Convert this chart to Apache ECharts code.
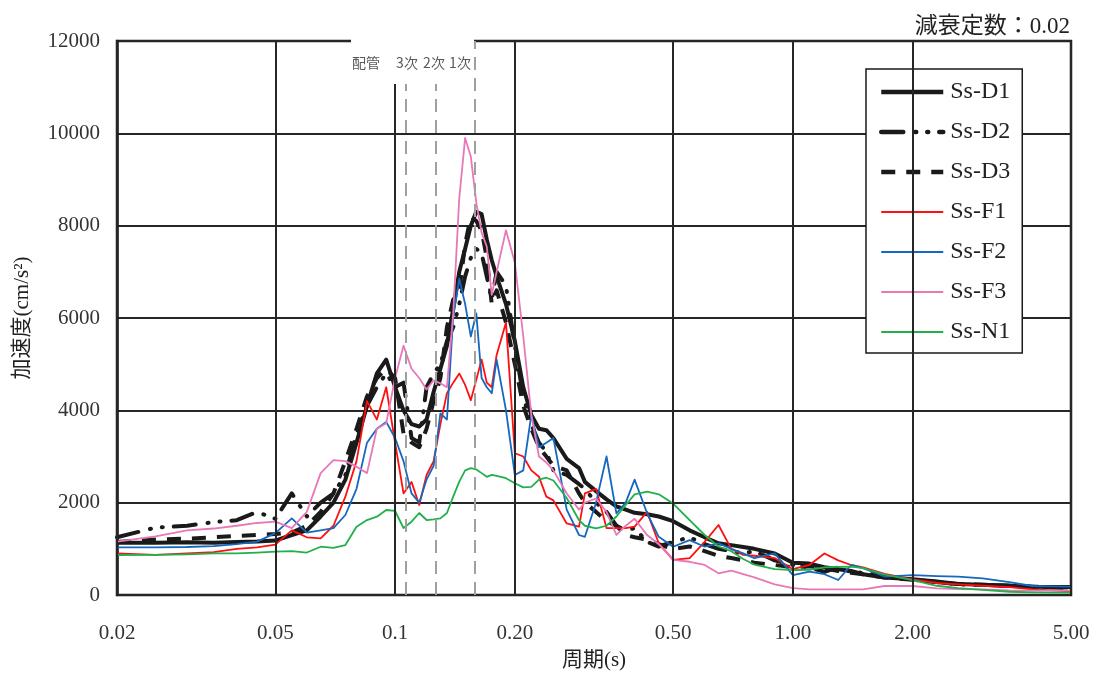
<!DOCTYPE html>
<html>
<head>
<meta charset="utf-8">
<script src="https://cdn.jsdelivr.net/npm/echarts@6/dist/echarts.min.js"></script>
<style>html,body{margin:0;padding:0;background:#fff}#c{width:1097px;height:673px}</style>
</head>
<body>
<div id="c"></div>
<script>
// ---- data ----
const periods = [0.02,0.025,0.03,0.035,0.04,0.045,0.05,0.055,0.06,0.065,
  0.07,0.075,0.08,0.085,0.09,0.095,0.1,0.105,0.11,0.115,
  0.12,0.125,0.13,0.135,0.14,0.145,0.15,0.155,0.16,0.165,
  0.17,0.175,0.18,0.19,0.2,0.21,0.22,0.23,0.24,0.25,
  0.27,0.29,0.3,0.32,0.34,0.36,0.38,0.4,0.43,0.46,
  0.5,0.55,0.6,0.65,0.7,0.75,0.8,0.9,1.0,1.1,
  1.2,1.3,1.4,1.5,1.7,2.0,2.3,2.6,3.0,3.5,
  4.0,4.5,5.0];

const ssD1 = [1130,1130,1140,1130,1150,1160,1180,1300,1400,1700,
  2000,2500,3300,4100,4800,5100,4500,4000,3700,3650,
  3800,4400,4900,5400,6200,7000,7500,8000,8300,8250,
  7700,7250,6900,6300,5500,4500,3900,3600,3570,3400,
  2950,2750,2450,2250,2070,1920,1850,1780,1750,1700,
  1600,1400,1250,1120,1080,1040,1000,900,700,680,
  600,560,520,450,380,340,290,240,220,200,
  180,175,175];

const ssD2 = [1250,1460,1500,1580,1620,1800,1650,2200,1700,2000,
  2200,2600,3500,4100,4500,4800,4500,4600,3400,3300,
  4500,4800,5000,5500,5800,6300,6900,7300,7500,7400,
  6900,6400,7000,6700,5400,4300,3700,3300,3100,2700,
  2600,2400,2300,2000,1800,1500,1400,1450,1150,1050,
  1150,1250,1100,1000,950,900,950,750,650,600,
  500,600,500,480,400,330,280,230,220,200,
  180,170,160];

const ssD3 = [1150,1200,1220,1250,1280,1300,1320,1350,1500,1800,
  2200,2900,3600,4300,4700,4900,4700,3500,3300,3200,
  3600,4200,4700,5800,6400,6600,7600,8200,8100,7900,
  7300,6300,6600,5900,5000,4100,3600,3200,3000,2800,
  2700,2200,2000,1800,1600,1500,1300,1250,1200,1100,
  1000,1050,950,850,800,750,700,650,600,620,
  580,520,480,450,380,330,280,240,220,200,
  180,170,150];

const ssF1 = [903,870,900,930,1000,1030,1090,1400,1250,1228,
  1500,2130,2900,4200,3800,4500,3300,2200,2450,1950,
  2600,2900,3700,4370,4600,4800,4550,4220,4660,5100,
  4600,4500,5200,5900,3070,3000,2700,2560,2130,2050,
  1550,1480,2200,2300,1450,1450,1450,1480,1800,1120,
  760,800,1150,1516,1000,870,850,800,560,650,
  900,750,650,600,460,340,260,230,200,170,
  120,100,80];

const ssF2 = [1033,1033,1040,1060,1100,1155,1340,1660,1350,1400,
  1450,1733,2300,3300,3600,3750,3400,2900,2200,2000,
  2500,2800,3935,3800,6028,6850,6300,5600,6100,4700,
  4500,4369,5100,4000,2600,2700,3900,3200,3300,3400,
  1850,1300,1260,2000,3000,1770,2000,2500,1770,1260,
  1046,1190,1046,1120,1000,900,800,900,430,505,
  450,325,650,580,400,430,410,400,361,280,
  195,185,180];

const ssF3 = [1155,1270,1400,1440,1500,1560,1590,1450,1800,2640,
  2920,2900,2780,2640,3600,3720,4700,5400,4900,4700,
  4450,4650,4585,4500,6100,8600,9900,9500,8500,7850,
  7550,6500,7000,7900,7200,5600,3900,3000,2870,2700,
  2200,1850,2000,2090,1800,1300,1500,1650,1300,1100,
  760,720,650,470,530,450,380,230,150,123,
  123,123,123,123,195,195,144,130,120,100,
  94,94,94];

const ssN1 = [866,870,880,900,900,920,940,950,920,1046,
  1020,1083,1480,1624,1696,1841,1820,1451,1588,1776,
  1624,1640,1660,1776,2130,2455,2700,2750,2720,2640,
  2560,2600,2580,2530,2420,2330,2340,2500,2540,2480,
  2100,1620,1500,1444,1500,1700,1950,2180,2240,2180,
  1980,1620,1300,1050,950,780,660,560,541,545,
  600,610,613,580,440,320,200,150,110,70,
  55,50,50];

const xTickValues = [0.02, 0.05, 0.1, 0.2, 0.5, 1, 2, 5];
const xTickLabels = ['0.02', '0.05', '0.1', '0.20', '0.50', '1.00', '2.00', '5.00'];
const yTicks = { min: 0, max: 12000, interval: 2000 };

// natural periods of piping, 3rd, 2nd, 1st modes
const markPeriods = [0.1066, 0.1267, 0.159];
const markLabels = ['配管', '3次', '2次', '1次'];

// ---- chart ----
const serifFont = "'Liberation Serif', 'Noto Sans CJK JP', serif";
const chart = echarts.init(document.getElementById('c'), null, { renderer: 'canvas' });

function pairs(vals) { return periods.map((p, i) => [p, vals[i]]); }

const seriesDefs = [
  { name: 'Ss-D1', data: ssD1, color: '#1a1a1a', width: 4, type: 'solid' },
  { name: 'Ss-D2', data: ssD2, color: '#1a1a1a', width: 4, type: [22, 12, 1, 11, 1, 11], cap: 'round' },
  { name: 'Ss-D3', data: ssD3, color: '#1a1a1a', width: 4, type: [14, 11] },
  { name: 'Ss-F1', data: ssF1, color: '#ff1010', width: 1.8, type: 'solid' },
  { name: 'Ss-F2', data: ssF2, color: '#1468c0', width: 1.8, type: 'solid' },
  { name: 'Ss-F3', data: ssF3, color: '#e878b8', width: 1.8, type: 'solid' },
  { name: 'Ss-N1', data: ssN1, color: '#22b04c', width: 1.8, type: 'solid' }
];

function labelFor(v) {
  let best = 0, bd = Infinity;
  xTickValues.forEach((t, i) => { const d = Math.abs(Math.log(v / t)); if (d < bd) { bd = d; best = i; } });
  return xTickLabels[best];
}

const series = [{
  name: '_grid', type: 'line', data: [], silent: true, z: 1,
  markLine: {
    symbol: 'none', silent: true, animation: false,
    lineStyle: { color: '#262626', width: 2, type: 'solid' },
    label: {
      show: true, position: 'start', distance: 28,
      formatter: p => labelFor(p.value),
      fontSize: 21, color: '#333', fontFamily: serifFont
    },
    data: xTickValues.map(v => ({ xAxis: v }))
  }
}, {
  name: '_modes', type: 'line', data: [], silent: true, z: 1,
  markLine: {
    symbol: 'none', silent: true, animation: false,
    lineStyle: { color: '#a0a0a0', width: 2, type: [13, 8] },
    label: { show: false },
    data: [
      [{ coord: [markPeriods[0], 0] }, { coord: [markPeriods[0], 11070] }],
      [{ coord: [markPeriods[1], 0] }, { coord: [markPeriods[1], 11070] }],
      [{ coord: [markPeriods[2], 0] }, { coord: [markPeriods[2], 12000] }]
    ]
  }
}].concat(seriesDefs.map(s => ({
  name: s.name, type: 'line', data: pairs(s.data), showSymbol: false, symbol: 'none',
  z: 3,
  lineStyle: { color: s.color, width: s.width, type: s.type, cap: s.cap || 'butt', join: 'round' },
  itemStyle: { color: s.color }
})));

chart.setOption({
  animation: false,
  backgroundColor: '#fff',
  title: {
    text: '減衰定数：0.02', right: 22, top: 10,
    textStyle: { fontSize: 23, fontWeight: 'normal', color: '#222', fontFamily: serifFont }
  },
  grid: { left: 117, right: 26, top: 41, bottom: 78, containLabel: false, outerBoundsMode: 'none',
    show: true, borderColor: '#1a1a1a', borderWidth: 2.5, backgroundColor: 'transparent' },
  legend: {
    data: seriesDefs.map(s => ({
      name: s.name,
      itemStyle: { opacity: 0, borderWidth: 0 },
      lineStyle: { color: s.color, width: s.width === 4 ? 4.5 : 2.2, type: s.type, cap: s.cap || 'butt', opacity: 1 }
    })),
    orient: 'vertical', left: 866, top: 69,
    padding: [11, 12, 9, 13],
    itemWidth: 62, itemHeight: 14, itemGap: 16,
    backgroundColor: '#fff', borderColor: '#1a1a1a', borderWidth: 1.5, borderRadius: 0,
    textStyle: { fontSize: 24, color: '#222', fontFamily: serifFont, lineHeight: 20, padding: [0, 0, 0, 2] }
  },
  xAxis: {
    type: 'log', logBase: 10, min: xTickValues[0], max: xTickValues[xTickValues.length - 1],
    name: '周期(s)', nameLocation: 'middle', nameGap: 55,
    nameTextStyle: { fontSize: 21, color: '#222', fontFamily: serifFont },
    axisLine: { show: false }, axisTick: { show: false },
    axisLabel: { show: false }, splitLine: { show: false }, minorSplitLine: { show: false }
  },
  yAxis: {
    type: 'value', min: yTicks.min, max: yTicks.max, interval: yTicks.interval,
    name: '加速度(cm/s²)', nameLocation: 'middle', nameGap: 84, nameRotate: 90,
    nameTextStyle: { fontSize: 21, color: '#222', fontFamily: serifFont },
    axisLine: { show: true, lineStyle: { color: '#1a1a1a', width: 2.5 } },
    axisTick: { show: false },
    axisLabel: { fontSize: 21, color: '#333', margin: 17, fontFamily: serifFont, formatter: v => String(v) },
    splitLine: { show: true, lineStyle: { color: '#262626', width: 2 } }
  },
  graphic: [
    { type: 'rect', shape: { x: 351, y: 36, width: 123, height: 48 }, style: { fill: '#fff' }, z: 100 },
    { type: 'text', x: 366, y: 63, z: 101, style: { text: markLabels[0], fill: '#595959', fontSize: 14, fontFamily: 'Noto Sans CJK JP', align: 'center', verticalAlign: 'middle' } },
    { type: 'text', x: 407, y: 63, z: 101, style: { text: markLabels[1], fill: '#595959', fontSize: 14, fontFamily: 'Noto Sans CJK JP', align: 'center', verticalAlign: 'middle' } },
    { type: 'text', x: 434, y: 63, z: 101, style: { text: markLabels[2], fill: '#595959', fontSize: 14, fontFamily: 'Noto Sans CJK JP', align: 'center', verticalAlign: 'middle' } },
    { type: 'text', x: 460, y: 63, z: 101, style: { text: markLabels[3], fill: '#595959', fontSize: 14, fontFamily: 'Noto Sans CJK JP', align: 'center', verticalAlign: 'middle' } }
  ],
  series: series
});
</script>
</body>
</html>
